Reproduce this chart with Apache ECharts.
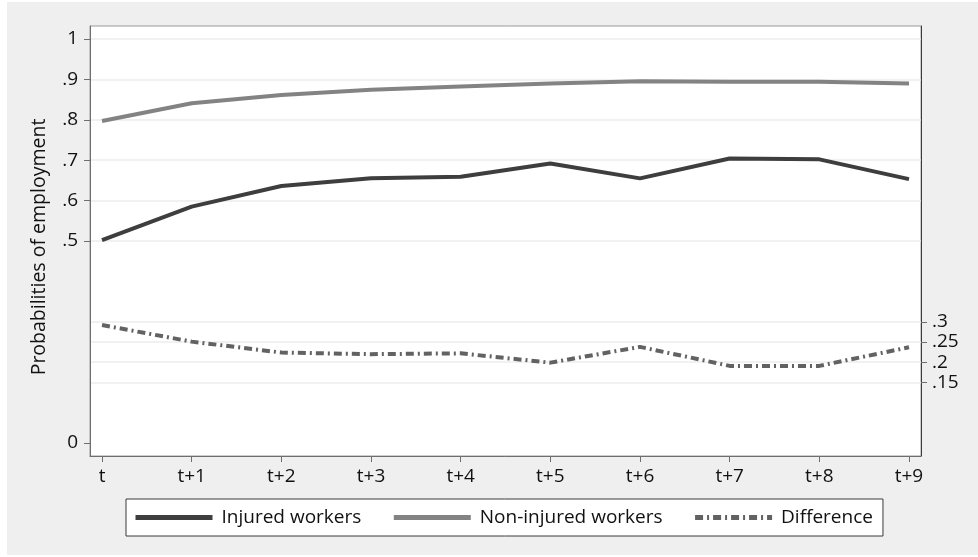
<!DOCTYPE html>
<html>
<head>
<meta charset="utf-8">
<script src="https://cdn.jsdelivr.net/npm/echarts@6/dist/echarts.min.js"></script>
<style>
  html, body { margin: 0; padding: 0; background: #ffffff; }
  #chart { width: 978px; height: 557px; }
</style>
</head>
<body>
<div id="chart"></div>
<script>
// Periods after the injury year
const periods = ['t', 't+1', 't+2', 't+3', 't+4', 't+5', 't+6', 't+7', 't+8', 't+9'];

// Probability of being employed, by group
const injured    = [0.502, 0.585, 0.636, 0.655, 0.659, 0.692, 0.655, 0.704, 0.702, 0.653];
const nonInjured = [0.797, 0.841, 0.861, 0.874, 0.882, 0.890, 0.895, 0.894, 0.894, 0.890];
const difference = [0.292, 0.251, 0.224, 0.220, 0.222, 0.199, 0.238, 0.191, 0.191, 0.237];

// Tick values for the left and right y axes
const leftTicks  = [0, 0.5, 0.6, 0.7, 0.8, 0.9, 1];
const rightTicks = [0.15, 0.2, 0.25, 0.3];
const gridTicks  = [0.5, 0.6, 0.7, 0.8, 0.9, 1];

const FONT = 'Open Sans';

function fmt(v) {
  if (v === 0) return '0';
  if (v === 1) return '1';
  return String(+v.toFixed(2)).replace(/^0\./, '.');
}

function toPairs(vals) {
  return vals.map((v, i) => [i, v]);
}

const periodIdx = periods.map((p, i) => i);
const yMin = -0.032, yMax = 1.032;

const chart = echarts.init(document.getElementById('chart'), null, { renderer: 'canvas' });

chart.setOption({
  backgroundColor: '#ffffff',
  animation: false,
  graphic: [{
    type: 'rect',
    z: -10,
    silent: true,
    shape: { x: 7, y: 2, width: 971, height: 553 },
    style: { fill: '#efefef' }
  }],
  textStyle: { fontFamily: FONT },
  grid: {
    left: 90, top: 26, right: 57, bottom: 101,
    show: true,
    backgroundColor: '#ffffff',
    borderColor: '#9a9a9a',
    borderWidth: 1
  },
  xAxis: {
    type: 'value',
    min: -0.134,
    max: 9.134,
    axisLine: { show: true, onZero: false, lineStyle: { color: '#6e6e6e', width: 1 } },
    axisTick: { show: true, length: 6, customValues: periodIdx, lineStyle: { color: '#6e6e6e' } },
    axisLabel: {
      customValues: periodIdx,
      formatter: v => periods[Math.round(v)],
      fontFamily: FONT, fontSize: 19, color: '#111', margin: 11
    },
    splitLine: { show: false }
  },
  yAxis: [
    {
      type: 'value', position: 'left', min: yMin, max: yMax,
      name: 'Probabilities of employment',
      nameLocation: 'middle', nameGap: 41,
      nameTextStyle: { fontFamily: FONT, fontSize: 19.5, color: '#111', padding: [0, 12, 0, 0] },
      axisLine: { show: true, onZero: false, lineStyle: { color: '#6e6e6e', width: 1 } },
      axisTick: { show: true, length: 6, customValues: leftTicks, lineStyle: { color: '#6e6e6e' } },
      axisLabel: { customValues: leftTicks, formatter: fmt, fontFamily: FONT, fontSize: 19, color: '#111', margin: 12 },
      splitLine: { show: false }
    },
    {
      type: 'value', position: 'right', min: yMin, max: yMax,
      axisLine: { show: true, onZero: false, lineStyle: { color: '#3c3c3c', width: 1 } },
      axisTick: { show: true, length: 6, customValues: rightTicks, lineStyle: { color: '#6e6e6e' } },
      axisLabel: { customValues: rightTicks, formatter: fmt, fontFamily: FONT, fontSize: 19, color: '#111', margin: 11 },
      splitLine: { show: true, lineStyle: { color: '#ececec', width: 1.5 } }
    },
    {
      // grid lines for the upper part of the left scale
      type: 'value', position: 'left', min: yMin, max: yMax,
      axisLine: { show: false, onZero: false },
      axisTick: { show: false, customValues: gridTicks },
      axisLabel: { show: false, customValues: gridTicks },
      splitLine: { show: true, lineStyle: { color: '#ececec', width: 1.5 } }
    }
  ],
  legend: {
    left: 126, top: 499,
    itemWidth: 77, itemHeight: 14,
    itemGap: 30,
    padding: [9, 10, 9, 7],
    backgroundColor: '#ffffff',
    borderColor: '#3a3a3a',
    borderWidth: 1,
    borderRadius: 0,
    itemStyle: { opacity: 0 },
    lineStyle: { width: 5 },
    textStyle: { fontFamily: FONT, fontSize: 19, color: '#111', padding: [0, 0, 0, 4] },
    data: ['Injured workers', 'Non-injured workers', 'Difference']
  },
  series: [
    {
      name: 'Injured workers', type: 'line', symbol: 'none',
      xAxisIndex: 0, yAxisIndex: 0,
      data: toPairs(injured),
      lineStyle: { color: '#3e3e3e', width: 4 },
      itemStyle: { color: '#3e3e3e' }
    },
    {
      name: 'Non-injured workers', type: 'line', symbol: 'none',
      xAxisIndex: 0, yAxisIndex: 0,
      data: toPairs(nonInjured),
      lineStyle: { color: '#838383', width: 4 },
      itemStyle: { color: '#838383' }
    },
    {
      name: 'Difference', type: 'line', symbol: 'none',
      xAxisIndex: 0, yAxisIndex: 1,
      data: toPairs(difference),
      lineStyle: { color: '#626262', width: 4, type: [8, 4, 2, 4] },
      itemStyle: { color: '#626262' }
    }
  ]
});
</script>
</body>
</html>
